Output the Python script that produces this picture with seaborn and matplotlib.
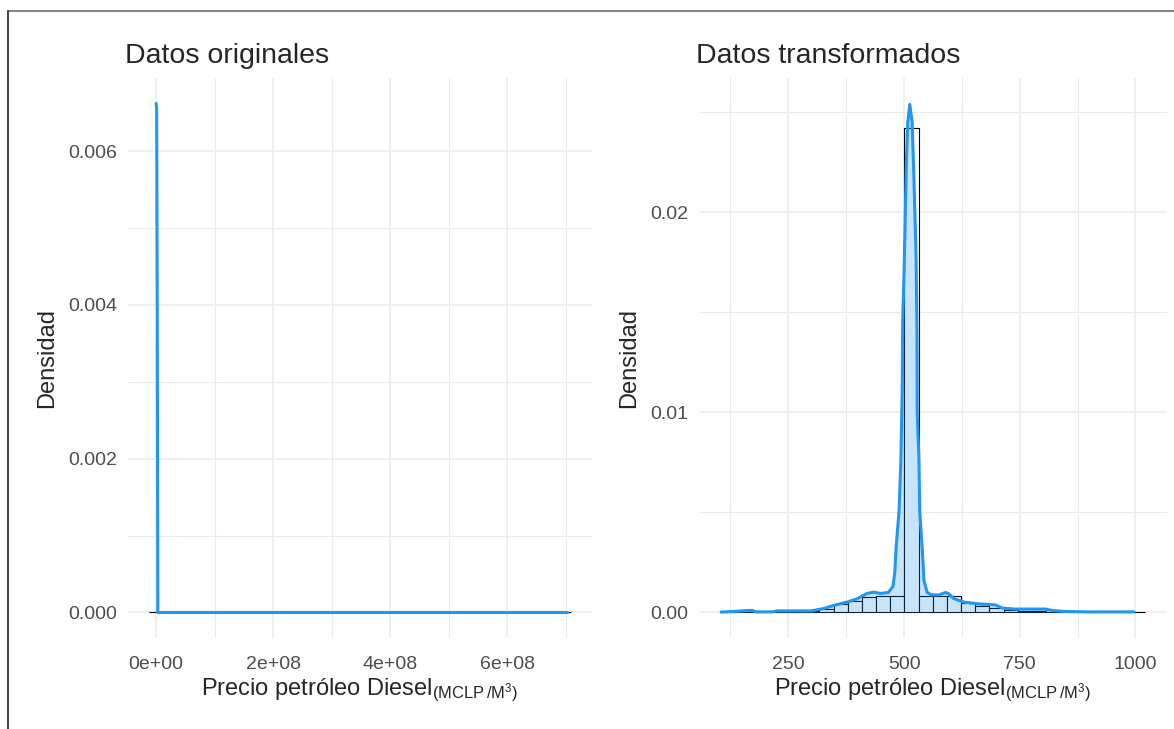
import matplotlib
matplotlib.use("Agg")
import matplotlib.pyplot as plt
import matplotlib.ticker as mticker
from matplotlib.lines import Line2D
import seaborn as sns
import numpy as np

# --- data ---
# left panel: original prices (histogram bins with 30 bins, density curve)
orig_edges = [-1.2e7 + 2.4e7 * i for i in range(31)]
orig_hist = [4.1e-8] + [0.0] * 28 + [1e-10]
orig_dens_x = [0.0, 1.0e6, 2.0e6, 3.0e6, 5.0e6, 1.0e8, 3.0e8, 5.0e8, 7.03e8]
orig_dens_y = [0.00662, 0.00655, 0.0040, 0.0, 0.0, 0.0, 0.0, 0.0, 0.0]

# right panel: transformed prices
trans_edges = [103.0 + 30.6 * i for i in range(31)]
trans_hist = [0.00003, 0.00008, 0.00003, 0.0, 0.00005, 0.00005, 0.00006, 0.00017,
              0.00042, 0.00058, 0.00075, 0.00082, 0.00083, 0.02422, 0.00083,
              0.00083, 0.00080, 0.00047, 0.00033, 0.00022, 0.00010, 0.00008,
              0.00008, 0.00004, 0.00002, 0.00001, 0.00001, 0.0, 0.0, 0.00001]
trans_dens_x = [105, 130, 150, 160, 172, 180, 215, 225, 300, 327, 348, 377, 398,
                420, 435, 449, 466, 476, 480, 483, 489, 493, 496, 497, 500, 502,
                505, 508, 512.5, 517.5, 521, 526, 528, 528.5, 532, 534, 539, 543,
                550, 560, 575, 590, 597, 607, 629, 661, 697, 712, 741, 806, 820,
                849, 900, 997]
trans_dens_y = [0.00002, 0.00005, 0.00008, 0.0001, 0.0001, 0.00003, 0.00003,
                0.00008, 0.00008, 0.0002, 0.00035, 0.00052, 0.00068, 0.00095,
                0.00102, 0.00095, 0.0010, 0.0013, 0.0020, 0.0033, 0.0050, 0.0075,
                0.0110, 0.0145, 0.0170, 0.0191, 0.0225, 0.0245, 0.0254, 0.0245,
                0.0220, 0.0178, 0.0138, 0.0100, 0.0078, 0.0050, 0.0033, 0.0016,
                0.0010, 0.00088, 0.00088, 0.0010, 0.00093, 0.0007, 0.00052,
                0.00043, 0.00038, 0.00022, 0.00017, 0.00017, 0.0001, 0.00005,
                0.00003, 0.00003]

titles = ["Datos originales", "Datos transformados"]
xlabel = r"Precio petróleo Diesel$_{\mathrm{(MCLP\,/M^3)}}$"
ylabel = "Densidad"

sns.set_style("white")
plt.rcParams["font.family"] = ["Liberation Sans", "DejaVu Sans"]
plt.rcParams["mathtext.fontset"] = "custom"
plt.rcParams["mathtext.rm"] = "Liberation Sans"
plt.rcParams["mathtext.it"] = "Liberation Sans:italic"

line_col = "#2196F3"
grid_col = "#EBEBEB"
tick_col = "#4D4D4D"

fig = plt.figure(figsize=(11.74, 7.29), dpi=100)
ax1 = fig.add_axes([0.109, 0.125, 0.395, 0.768])
ax2 = fig.add_axes([0.5954, 0.125, 0.3986, 0.768])


def draw_panel(ax, edges, heights, dx, dy):
    mids = [(a + b) / 2 for a, b in zip(edges[:-1], edges[1:])]
    sns.histplot(x=mids, weights=heights, bins=edges, stat="count", ax=ax,
                 color="white", edgecolor="black", linewidth=0.8, alpha=1,
                 zorder=2)
    ax.fill_between(dx, dy, color=line_col, alpha=0.25, lw=0, zorder=3)
    sns.lineplot(x=dx, y=dy, ax=ax, color=line_col, lw=2.2, sort=False,
                 zorder=4)


draw_panel(ax1, orig_edges, orig_hist, orig_dens_x, orig_dens_y)
draw_panel(ax2, trans_edges, trans_hist, trans_dens_x, trans_dens_y)

ax1.set_xlim(-4.8e7, 7.44e8)
ax1.set_ylim(-0.00033, 0.00695)
ax1.xaxis.set_major_locator(mticker.MultipleLocator(2e8))
ax1.xaxis.set_minor_locator(mticker.MultipleLocator(1e8))
ax1.xaxis.set_major_formatter(mticker.FuncFormatter(lambda v, p: f"{v:.0e}"))
ax1.yaxis.set_major_locator(mticker.MultipleLocator(0.002))
ax1.yaxis.set_minor_locator(mticker.MultipleLocator(0.001))
ax1.yaxis.set_major_formatter(mticker.FormatStrFormatter("%.3f"))

ax2.set_xlim(57, 1068)
ax2.set_ylim(-0.00127, 0.02672)
ax2.xaxis.set_major_locator(mticker.MultipleLocator(250))
ax2.xaxis.set_minor_locator(mticker.MultipleLocator(125))
ax2.yaxis.set_major_locator(mticker.MultipleLocator(0.01))
ax2.yaxis.set_minor_locator(mticker.MultipleLocator(0.005))
ax2.yaxis.set_major_formatter(mticker.FormatStrFormatter("%.2f"))

for ax, title in zip([ax1, ax2], titles):
    for s in ax.spines.values():
        s.set_visible(False)
    ax.grid(which="major", color=grid_col, lw=1.1, zorder=0)
    ax.grid(which="minor", color=grid_col, lw=0.8, zorder=0)
    ax.set_axisbelow(True)
    ax.tick_params(which="both", length=0, labelsize=14, labelcolor=tick_col)
    ax.tick_params(axis="x", pad=13)
    ax.tick_params(axis="y", pad=8)
    ax.set_title(title, loc="left", fontsize=20.5, pad=11, x=-0.006)
    ax.set_xlabel(xlabel, fontsize=17, labelpad=3)
    ax.set_ylabel(ylabel, fontsize=17, labelpad=7)

# screenshot frame (top and left edges)
fig.add_artist(Line2D([8 / 1174, 1.0], [1 - 11 / 729] * 2, color="#6E6E6E",
                      lw=1.2, transform=fig.transFigure))
fig.add_artist(Line2D([8 / 1174] * 2, [0.0, 1 - 11 / 729], color="#222222",
                      lw=1.2, transform=fig.transFigure))

fig.savefig("out.png", dpi=100, facecolor="white")
